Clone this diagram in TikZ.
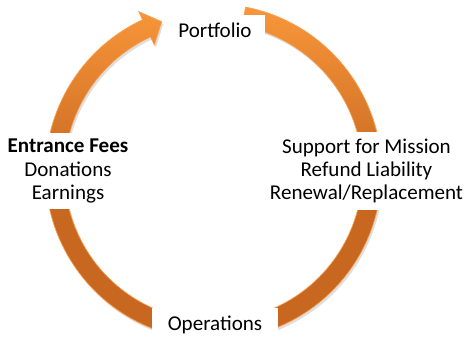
\documentclass[tikz,border=0pt]{standalone}
\usepackage{fontspec}
\setmainfont{Carlito}
\usetikzlibrary{calc,shadows}
\definecolor{ringlight}{RGB}{248,150,58}
\definecolor{ringdark}{RGB}{200,104,32}
\definecolor{ringedge}{RGB}{250,162,84}
\tikzset{
	ring/.style={draw=ringedge, line width=0.5pt, top color=ringlight, bottom color=ringdark, middle color=ringdark, drop shadow={shadow xshift=1.2pt, shadow yshift=-1.8pt, opacity=0.25}},
	labelbox/.style={fill=white, inner xsep=10pt, inner ysep=6pt, font=\fontsize{15.8}{17.3}\selectfont},
	listbox/.style={labelbox, align=center, inner ysep=5pt}
}

\begin{document}
\begin{tikzpicture}[x=0.75pt, y=0.75pt]
			%%%%% START %%%%%
			
			\useasboundingbox (0, 0) rectangle (467, 337);
			\coordinate (hub) at (213.5, 165);
			
			\path[ring] ($(hub)+(79:168)$) arc[start angle=79, end angle=-245, radius=126pt]
				-- ($(hub)+(115:177)$) -- ($(hub)+(109:159)$) -- ($(hub)+(115:140)$)
				-- ($(hub)+(115:149)$) arc[start angle=-245, end angle=79, radius=111.75pt] -- cycle;
			
			\node[labelbox] (portfolio) at (215, 307) {Portfolio};
			\node[labelbox, inner xsep=12pt] (operations) at (215, 12) {Operations};
			
			\node[listbox] (sources) at (68, 166) {\textbf{Entrance Fees}\\Donations\\Earnings};
			\node[listbox] (uses) at (366.5, 166) {Support for Mission\\Refund Liability\\Renewal/Replacement};
			
			%%%%% END %%%%%
\end{tikzpicture}
\end{document}
